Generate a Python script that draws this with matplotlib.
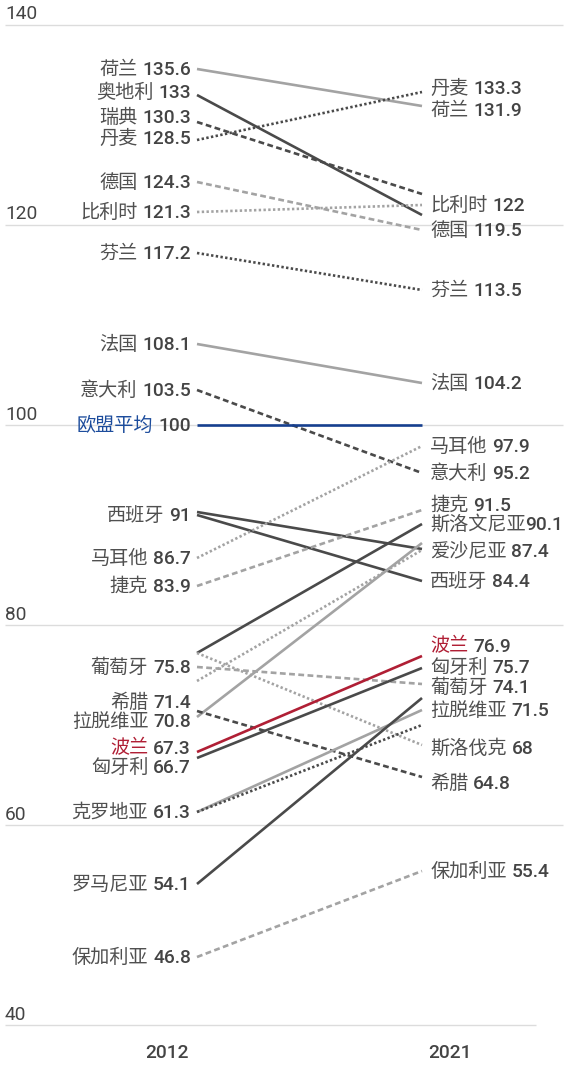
import matplotlib
matplotlib.use("Agg")
import matplotlib.pyplot as plt
import matplotlib.transforms as mtransforms

# ---- data ----
years = ["2012", "2021"]

left_names = ["荷兰", "奥地利", "瑞典", "丹麦", "德国", "比利时", "芬兰", "法国", "意大利",
              "欧盟平均", "西班牙", "马耳他", "捷克", "葡萄牙", "希腊", "拉脱维亚", "波兰",
              "匈牙利", "克罗地亚", "罗马尼亚", "保加利亚"]
left_values = [135.6, 133, 130.3, 128.5, 124.3, 121.3, 117.2, 108.1, 103.5,
               100, 91, 86.7, 83.9, 75.8, 71.4, 70.8, 67.3,
               66.7, 61.3, 54.1, 46.8]

right_names = ["丹麦", "荷兰", "比利时", "德国", "芬兰", "法国", "马耳他", "意大利", "捷克",
               "斯洛文尼亚", "爱沙尼亚", "西班牙", "波兰", "匈牙利", "葡萄牙", "拉脱维亚",
               "斯洛伐克", "希腊", "保加利亚"]
right_values = [133.3, 131.9, 122, 119.5, 113.5, 104.2, 97.9, 95.2, 91.5,
                90.1, 87.4, 84.4, 76.9, 75.7, 74.1, 71.5,
                68, 64.8, 55.4]

# each line: 2012 value, 2021 value
line_start = [135.6, 133, 130.3, 128.5, 124.3, 121.3, 117.2, 108.1, 103.5, 100,
              91, 91.3, 86.7, 83.9, 77.2, 74.4, 70.8, 77.2, 75.8, 71.4,
              67.3, 66.7, 61.3, 61.3, 54.1, 46.8]
line_end = [131.9, 121.0, 123.1, 133.3, 119.5, 122, 113.5, 104.2, 95.2, 100,
            84.4, 87.6, 97.9, 91.5, 90.1, 87.5, 88.2, 68, 74.1, 64.8,
            76.9, 75.7, 71.5, 70.0, 72.7, 55.4]
line_tone = ["light", "dark", "dark", "dark", "light", "light", "dark", "light", "dark", "eu",
             "dark", "dark", "light", "light", "dark", "light", "light", "light", "light", "dark",
             "pl", "dark", "light", "dark", "dark", "light"]
line_dash = ["solid", "solid", "dashed", "dotted", "dashed", "dotted", "dotted", "solid", "dashed", "solid",
             "solid", "solid", "dotted", "dashed", "solid", "dotted", "solid", "dotted", "dashed", "dashed",
             "solid", "solid", "solid", "dotted", "solid", "dashed"]

y_ticks = [40, 60, 80, 100, 120, 140]

# ---- style ----
W, H, DPI = 568, 1066, 100
X_LEFT, X_RIGHT = 197, 422          # pixel columns of the two years
Y_TOP_VAL, Y_TOP_PX, PX_PER_UNIT = 140, 25, 10

tones = {"dark": "#4a4a4a", "light": "#a3a3a3", "eu": "#163f8f", "pl": "#b01f35"}
dashes = {"solid": "-", "dashed": (0, (2.2, 1.3)), "dotted": (0, (0.9, 0.9))}
name_colors = {"欧盟平均": "#1c4c9c", "波兰": "#b01f35"}
NAME_COLOR = "#505050"
NUM_COLOR = "#444444"
FS = 13.8
CJK = ["Noto Sans CJK SC", "DejaVu Sans"]
NUM = ["Roboto", "Noto Sans CJK SC"]

# label nudges in pixels (positive = up), to avoid overlaps
left_nudge = {"奥地利": 3, "瑞典": 5, "丹麦": 2, "希腊": 9, "拉脱维亚": -4, "波兰": 4, "匈牙利": -9}
right_nudge = {"丹麦": 4, "荷兰": -4, "捷克": 5, "波兰": 10, "匈牙利": 1, "葡萄牙": -3,
               "斯洛伐克": -3, "希腊": -6}

fig = plt.figure(figsize=(W / DPI, H / DPI), dpi=DPI)
ax = fig.add_axes([0, 0, 1, 1])
ax.set_xlim(-X_LEFT / (X_RIGHT - X_LEFT), (W - X_LEFT) / (X_RIGHT - X_LEFT))
y_hi = Y_TOP_VAL + Y_TOP_PX / PX_PER_UNIT
ax.set_ylim(y_hi - H / PX_PER_UNIT, y_hi)
ax.axis("off")

def px_x(p):
    return (p - X_LEFT) / (X_RIGHT - X_LEFT)

# grid + tick labels
for t in y_ticks:
    x_end = 536 if t == y_ticks[0] else 563
    ax.plot([px_x(5), px_x(x_end)], [t, t], color="#dcdcdc", lw=1.0, zorder=0,
            solid_capstyle="butt")
    ax.text(px_x(5), t + 1.05, str(t), fontsize=FS, color=NUM_COLOR, family=NUM,
            ha="left", va="center")

# lines
for s, e, tone, dash in zip(line_start, line_end, line_tone, line_dash):
    z = 4 if tone in ("eu", "pl") else 2
    ax.plot([0, 1], [s, e], color=tones[tone], linestyle=dashes[dash], lw=1.9,
            zorder=z, solid_capstyle="butt", dash_capstyle="butt")

renderer = fig.canvas.get_renderer()
pt = 72 / DPI  # pixel -> point

def place(x, y, dx_px, dy_px, text, ha, **kw):
    tr = ax.transData + mtransforms.ScaledTranslation(dx_px * pt / 72, (dy_px - 5.6) * pt / 72,
                                                      fig.dpi_scale_trans)
    t = ax.text(x, y, text, transform=tr, ha=ha, va="baseline", fontsize=FS, **kw)
    return t.get_window_extent(renderer).width

GAP = 5
for name, v in zip(left_names, left_values):
    dy = left_nudge.get(name, 0)
    w = place(0, v, -6, dy, f"{v:g}", "right", color=NUM_COLOR, family=NUM, weight="medium")
    place(0, v, -6 - w - GAP, dy, name, "right",
          color=name_colors.get(name, NAME_COLOR), family=CJK, weight="light")

for name, v in zip(right_names, right_values):
    dy = right_nudge.get(name, 0)
    gap = 0 if len(name) >= 5 else GAP
    w = place(1, v, 8, dy, name, "left", color=name_colors.get(name, NAME_COLOR),
              family=CJK, weight="light")
    place(1, v, 8 + w + gap, dy, f"{v:g}", "left", color=NUM_COLOR, family=NUM, weight="medium")

# year labels
for xp, yr in zip([167, 450], years):
    ax.text(px_x(xp), y_hi - 1053 / PX_PER_UNIT, yr, fontsize=FS, color=NUM_COLOR,
            family=NUM, weight="medium", ha="center", va="center")

fig.savefig("out.png", dpi=DPI)
